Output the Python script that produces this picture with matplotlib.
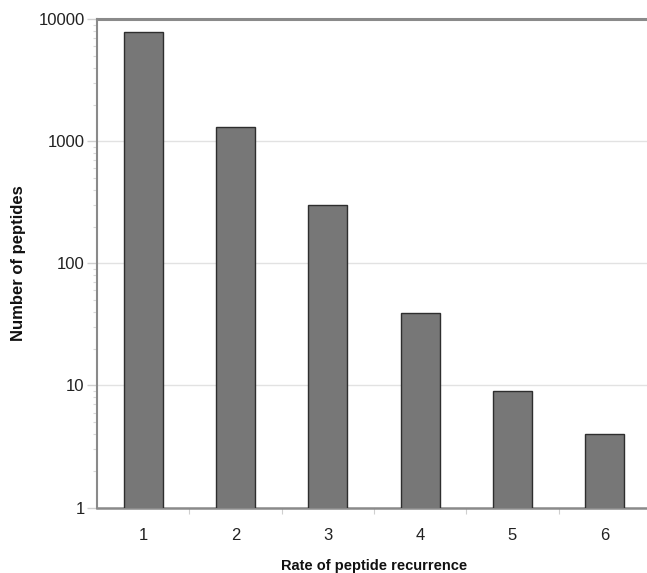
import matplotlib
matplotlib.use("Agg")
import matplotlib.pyplot as plt
from matplotlib.ticker import FixedLocator, LogLocator, NullFormatter, FixedFormatter
import numpy as np

plt.rcParams['font.family'] = ['Liberation Sans', 'DejaVu Sans']

# Peptide recurrence histogram
recurrence = [1, 2, 3, 4, 5, 6]
n_peptides = [7800, 1320, 300, 39, 9, 4]
y_ticks = [1, 10, 100, 1000, 10000]
y_tick_labels = ["1", "10", "100", "1000", "10000"]

fig = plt.figure(figsize=(6.47, 5.73), dpi=100)
ax = fig.add_axes([0.15, 0.1143, 0.856, 0.852])

x = np.arange(len(recurrence)) + 1
ax.bar(x, n_peptides, width=0.42, bottom=0, color="#777777",
       edgecolor="#2e2e2e", linewidth=1.0, zorder=3)

ax.set_yscale("log")
ax.set_ylim(1, 10000)
ax.set_xlim(0.5, 6.5)

ax.yaxis.set_major_locator(FixedLocator(y_ticks))
ax.yaxis.set_major_formatter(FixedFormatter(y_tick_labels))
ax.yaxis.set_minor_locator(LogLocator(base=10, subs=np.arange(2, 10)))
ax.yaxis.set_minor_formatter(NullFormatter())
ax.grid(axis="y", which="major", color="#e2e2e2", linewidth=1.0, zorder=0)

ax.set_xticks(x)
ax.set_xticklabels([str(r) for r in recurrence])
ax.set_xticks(np.arange(1.5, 6.5, 1.0), minor=True)

ax.tick_params(axis="y", which="major", length=7, width=1, color="#cfcfcf",
               labelsize=12, labelcolor="#222222", pad=2)
ax.tick_params(axis="y", which="minor", length=3, width=0.8, color="#d8d8d8")
ax.tick_params(axis="x", which="major", length=0, labelsize=12,
               labelcolor="#222222", pad=15)
ax.tick_params(axis="x", which="minor", length=4, width=0.8, color="#cfcfcf")

for side in ("left", "bottom", "top"):
    ax.spines[side].set_color("#8a8a8a")
ax.spines["left"].set_linewidth(1.5)
ax.spines["bottom"].set_linewidth(1.8)
ax.spines["top"].set_linewidth(2.2)
ax.spines["right"].set_visible(False)

ax.set_xlabel("Rate of peptide recurrence", fontsize=10.5, fontweight="bold",
              color="#111111", labelpad=11)
ax.set_ylabel("Number of peptides", fontsize=12, fontweight="bold",
              color="#111111", labelpad=9)

fig.savefig("out.png", dpi=100)
